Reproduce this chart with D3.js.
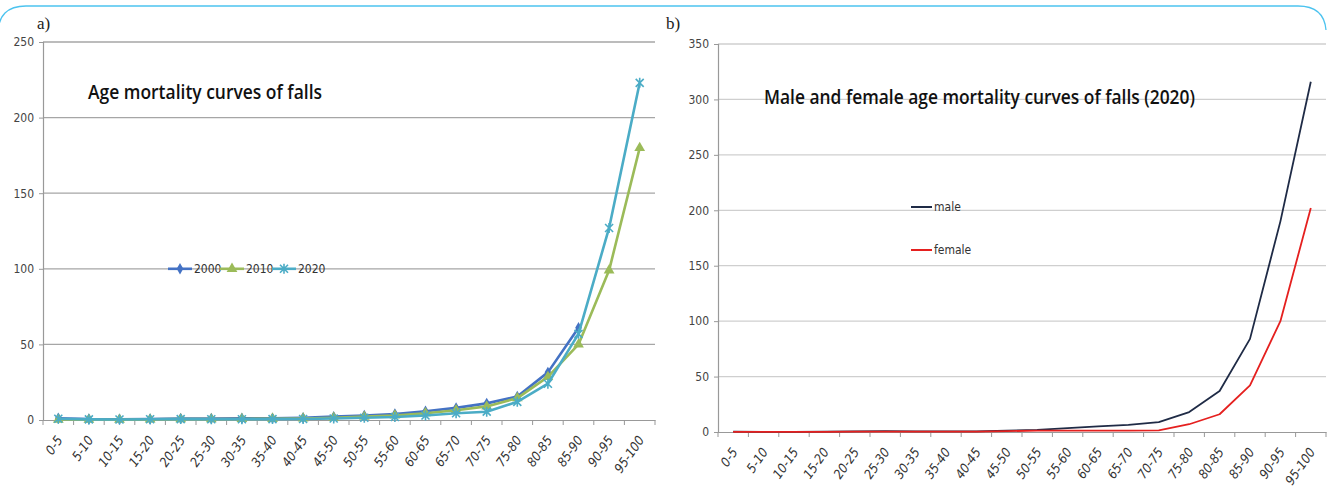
<!DOCTYPE html>
<html><head><meta charset="utf-8">
<script src="https://cdn.jsdelivr.net/npm/d3@7"></script>
<style>
html,body{margin:0;padding:0;background:#fff;}
svg{display:block;}
</style></head>
<body>
<svg id="chart" width="1327" height="490"></svg>
<script>
const categories = ['0-5','5-10','10-15','15-20','20-25','25-30','30-35','35-40','40-45','45-50','50-55','55-60','60-65','65-70','70-75','75-80','80-85','85-90','90-95','95-100'];
const s2000 = [1.2,0.6,0.5,0.7,1.0,1.0,1.1,1.2,1.5,2.2,3.0,4.0,5.8,8.0,11,15.5,31.5,61];
const s2010 = [0.3,0.2,0.2,0.4,0.6,0.6,0.7,0.8,1.0,1.5,2.2,3.0,4.5,6.5,9,14.5,28.5,50,99,180];
const s2020 = [0.8,0.4,0.3,0.5,0.6,0.5,0.5,0.6,0.7,1.0,1.5,2.0,3.0,4.5,5.5,12,24,57,127,223];
const male   = [0.3,0.2,0.2,0.4,0.6,0.8,0.6,0.5,0.6,1.2,2.0,3.5,5.0,6.5,9,18,37,84,190,316];
const female = [0.2,0.1,0.1,0.2,0.3,0.4,0.3,0.3,0.4,0.8,1.2,1.3,1.2,1.3,1.5,7,16,42,100,202];
const ticksA = [0,50,100,150,200,250];
const ticksB = [0,50,100,150,200,250,300,350];

const svg = d3.select('#chart');
const FONT = "'Liberation Sans Narrow','DejaVu Sans Condensed',sans-serif";

// frame
svg.append('path')
  .attr('d','M -2 34 Q -2 6 26 6 L 1298 6 Q 1324 6 1326 30')
  .attr('fill','none').attr('stroke','#4cc3ef').attr('stroke-width',1.3);

svg.append('text').attr('x',37).attr('y',29).text('a)')
  .attr('font-family',"'Liberation Serif',serif").attr('font-size',17).attr('fill','#222');
svg.append('text').attr('x',666).attr('y',29).text('b)')
  .attr('font-family',"'Liberation Serif',serif").attr('font-size',17).attr('fill','#222');

function panel(opt){
  const g = svg.append('g');
  const x = d3.scaleBand().domain(categories).range([opt.x0,opt.x1]);
  const y = d3.scaleLinear().domain([0,opt.ymax]).range([opt.y0,opt.y1]);
  g.append('g').selectAll('line').data(opt.ticks.filter(d=>d>0)).join('line')
    .attr('x1',opt.x0).attr('x2',opt.x1).attr('y1',d=>y(d)).attr('y2',d=>y(d))
    .attr('stroke',opt.grid).attr('stroke-width',1.3);
  const ya = g.append('g').attr('transform',`translate(${opt.x0},0)`)
    .call(d3.axisLeft(y).tickValues(opt.ticks).tickSize(4).tickPadding(5));
  ya.select('.domain').attr('stroke','#999').attr('stroke-width',1.2);
  ya.selectAll('.tick line').attr('stroke','#999');
  ya.selectAll('.tick text').attr('font-size',12).attr('fill','#444').attr('font-family',FONT);
  const xa = g.append('g').attr('transform',`translate(0,${opt.y0})`)
    .call(d3.axisBottom(x).tickSize(0).tickPadding(0));
  xa.select('.domain').attr('stroke','#999').attr('stroke-width',1.2);
  xa.selectAll('.tick line').remove();
  xa.selectAll('.tick text').attr('font-size',13).attr('fill','#333').attr('font-family',FONT)
    .attr('font-style','italic')
    .attr('text-anchor','end').attr('dy','0')
    .attr('transform','translate(5,20) rotate(-55)');
  g.append('g').selectAll('line').data(d3.range(categories.length+1)).join('line')
    .attr('x1',i=>opt.x0+i*x.bandwidth()).attr('x2',i=>opt.x0+i*x.bandwidth())
    .attr('y1',opt.y0).attr('y2',opt.y0+5).attr('stroke','#999');
  return {g,x,y};
}

// Panel a
const A = panel({x0:43,x1:655,y0:420,y1:42,ymax:250,ticks:ticksA,grid:'#a6a6a6'});
const lineA = d3.line().x((d,i)=>A.x(categories[i])+A.x.bandwidth()/2).y(d=>A.y(d));
const seriesA = [
  {name:'2000',data:s2000,color:'#4472c4',marker:'diamond'},
  {name:'2010',data:s2010,color:'#9bbb59',marker:'triangle'},
  {name:'2020',data:s2020,color:'#4bacc6',marker:'x'}
];
function marker(sel,type,color){
  if(type==='diamond'){
    sel.append('path').attr('d',d3.symbol(d3.symbolDiamond,38)()).attr('fill',color);
  } else if(type==='triangle'){
    sel.append('path').attr('d',d3.symbol(d3.symbolTriangle,50)()).attr('fill',color);
  } else {
    sel.append('path').attr('d','M-4,-4L4,4M-4,4L4,-4M0,-5L0,5').attr('stroke',color).attr('stroke-width',1.6).attr('fill','none');
  }
}
seriesA.forEach(s=>{
  A.g.append('path').datum(s.data).attr('d',lineA).attr('fill','none')
    .attr('stroke',s.color).attr('stroke-width',2.6).attr('stroke-linejoin','round');
  A.g.append('g').selectAll('g').data(s.data).join('g')
    .attr('transform',(d,i)=>`translate(${A.x(categories[i])+A.x.bandwidth()/2},${A.y(d)})`)
    .each(function(){ marker(d3.select(this),s.marker,s.color); });
});
const legA = A.g.append('g');
const legX = [168,220,272];
seriesA.forEach((s,i)=>{
  const ly = A.y(100);
  legA.append('line').attr('x1',legX[i]).attr('x2',legX[i]+24).attr('y1',ly).attr('y2',ly)
    .attr('stroke',s.color).attr('stroke-width',2.6);
  const m = legA.append('g').attr('transform',`translate(${legX[i]+12},${ly})`);
  marker(m,s.marker,s.color);
  legA.append('text').attr('x',legX[i]+26).attr('y',ly+4).text(s.name)
    .attr('font-size',12).attr('fill','#333').attr('font-family',FONT);
});
A.g.append('text').attr('x',88).attr('y',99).text('Age mortality curves of falls')
  .attr('font-family',"'Open Sans',sans-serif").attr('font-weight',600).attr('font-size',19)
  .attr('fill','#111').attr('textLength',234).attr('lengthAdjust','spacingAndGlyphs');

// Panel b
const B = panel({x0:718,x1:1326,y0:432,y1:44,ymax:350,ticks:ticksB,grid:'#cfcfcf'});
const lineB = d3.line().x((d,i)=>B.x(categories[i])+B.x.bandwidth()/2).y(d=>B.y(d));
const seriesB = [
  {name:'male',data:male,color:'#1f2b46'},
  {name:'female',data:female,color:'#e5201f'}
];
seriesB.forEach(s=>{
  B.g.append('path').datum(s.data).attr('d',lineB).attr('fill','none')
    .attr('stroke',s.color).attr('stroke-width',1.8).attr('stroke-linejoin','round');
});
const legBY = [207,250];
seriesB.forEach((s,i)=>{
  B.g.append('line').attr('x1',911).attr('x2',932).attr('y1',legBY[i]).attr('y2',legBY[i])
    .attr('stroke',s.color).attr('stroke-width',2);
  B.g.append('text').attr('x',934).attr('y',legBY[i]+4).text(s.name)
    .attr('font-size',12).attr('fill','#333').attr('font-family',FONT);
});
B.g.append('text').attr('x',764).attr('y',104).text('Male and female age mortality curves of falls (2020)')
  .attr('font-family',"'Open Sans',sans-serif").attr('font-weight',600).attr('font-size',19)
  .attr('fill','#111').attr('textLength',431).attr('lengthAdjust','spacingAndGlyphs');
</script>
</body></html>
